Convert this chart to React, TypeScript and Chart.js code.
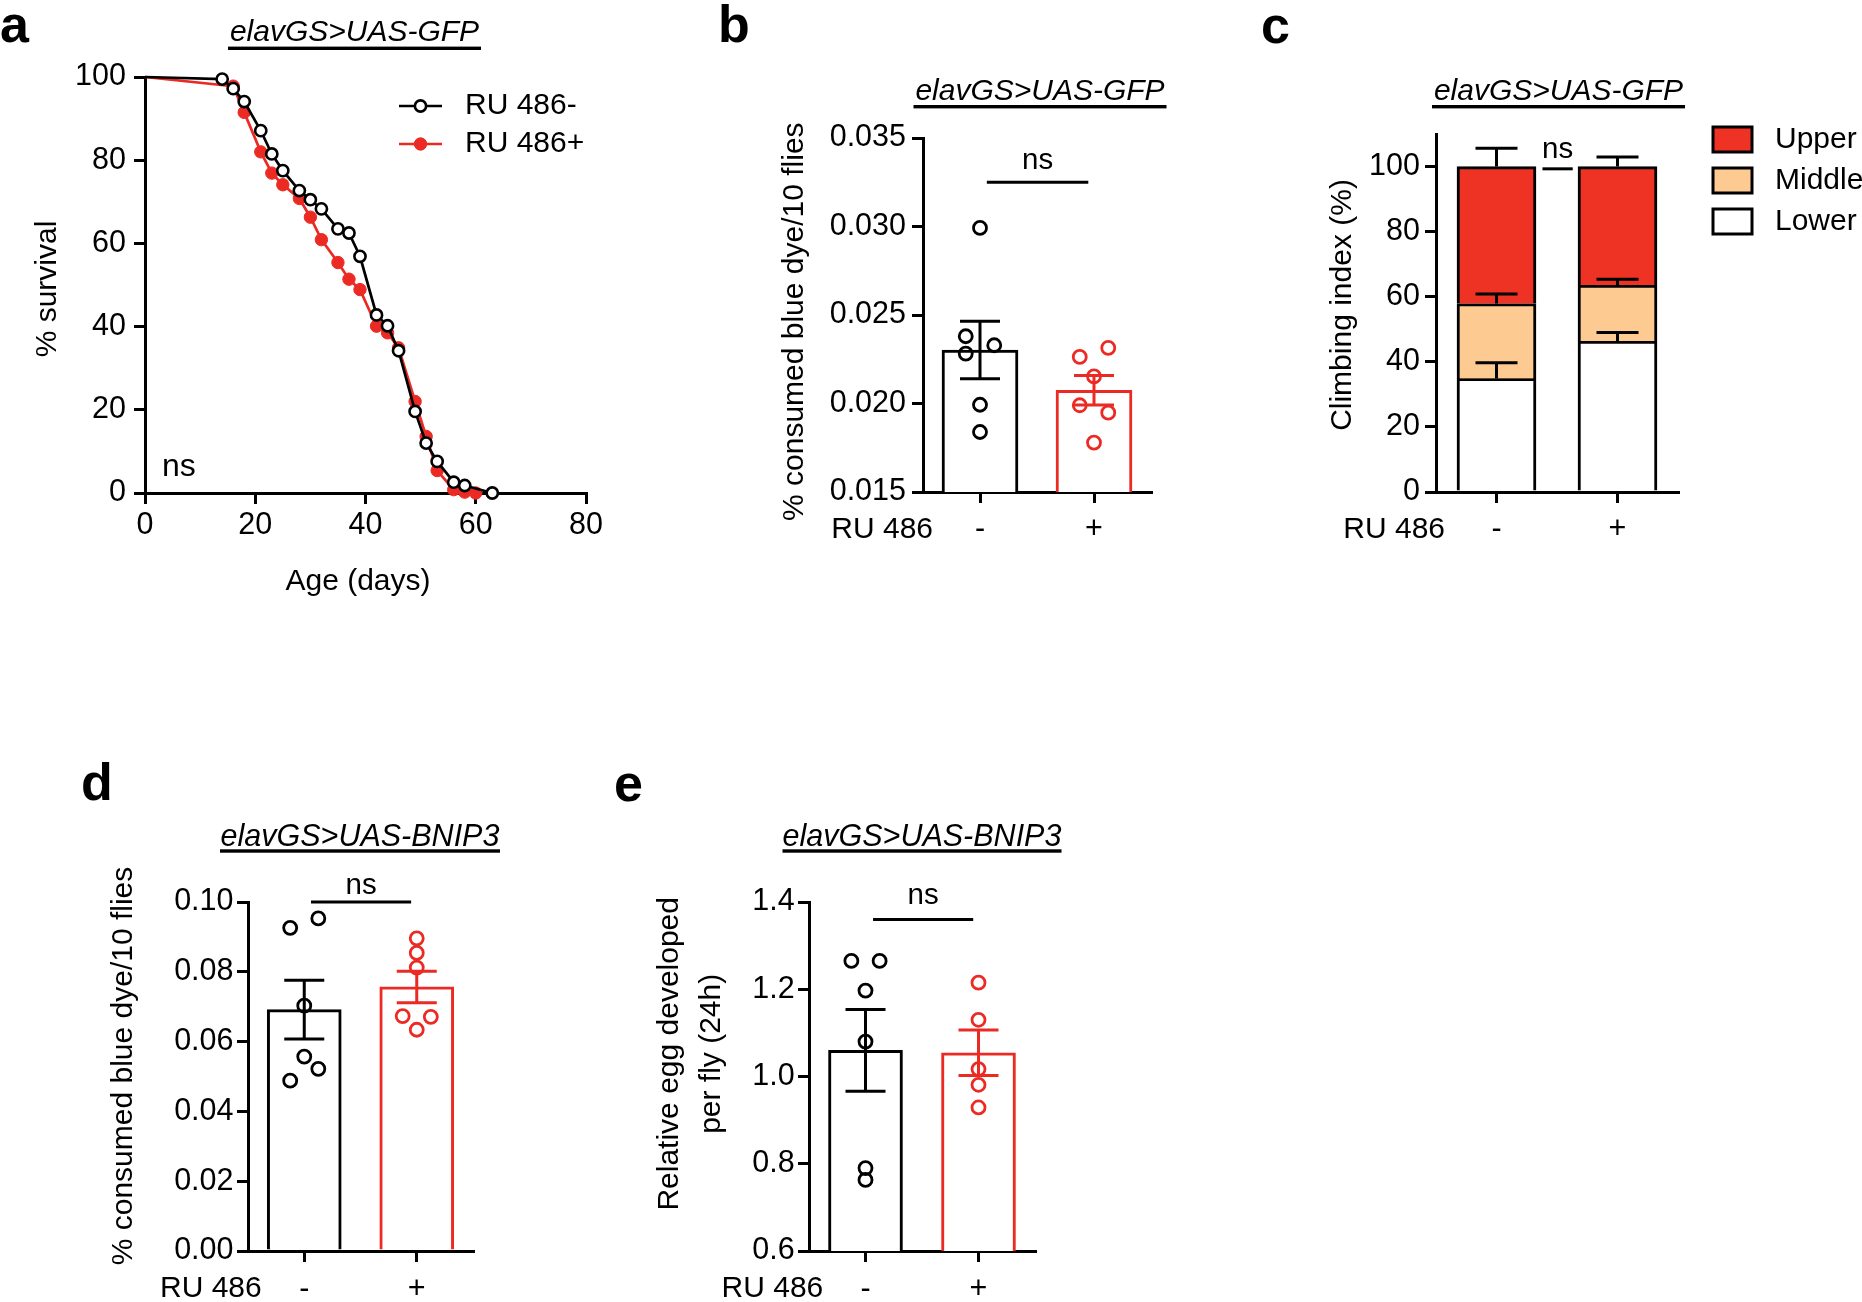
import { useEffect, useRef } from 'react';
import { Chart, registerables } from 'chart.js';

Chart.register(...registerables);

const PAGE_W = 1862;
const PAGE_H = 1302;
const FONT = '"Liberation Sans", Arial, Helvetica, sans-serif';
const BLACK = '#000000';
const RED = '#EC2A24';
const UPPER_FILL = '#EE3325';
const MIDDLE_FILL = '#FDCB92';
const LOWER_FILL = '#FFFFFF';

// ---------- shared labels ----------
const groupLabels = ['-', '+'];
const treatmentLabel = 'RU 486';
const gfpLine = 'elavGS>UAS-GFP';
const bnipLine = 'elavGS>UAS-BNIP3';

// ---------- panel a: survival ----------
const aDaysNeg = [0, 14, 16, 18, 21, 23, 25, 28, 30, 32, 35, 37, 39, 42, 44, 46, 49, 51, 53, 56, 58, 63];
const aSurvivalNeg = [100, 99.5, 97.2, 94.1, 87.1, 81.5, 77.5, 72.7, 70.5, 68.3, 63.5, 62.5, 56.9, 42.8, 40.2, 34.2, 19.6, 12.0, 7.6, 2.6, 1.8, 0];
const aDaysPos = [0, 16, 18, 21, 23, 25, 28, 30, 32, 35, 37, 39, 42, 44, 46, 49, 51, 53, 56, 58, 60];
const aSurvivalPos = [100, 97.8, 91.5, 82.0, 76.9, 74.1, 70.8, 66.3, 60.9, 55.4, 51.4, 48.9, 40.1, 38.5, 34.9, 22.0, 13.6, 5.4, 0.8, 0.2, 0];
const aSeriesNames = ['RU 486-', 'RU 486+'];
const aXTickLabels = ['0', '20', '40', '60', '80'];
const aYTickLabels = ['0', '20', '40', '60', '80', '100'];

// ---------- panel b: feeding (GFP) ----------
const bFeedingNeg = [0.02992, 0.0238, 0.02329, 0.02282, 0.01993, 0.01839];
const bFeedingPos = [0.02263, 0.02314, 0.02153, 0.0199, 0.01948, 0.01779];
const bYTickLabels = ['0.015', '0.020', '0.025', '0.030', '0.035'];

// ---------- panel c: climbing ----------
const cSegmentNames = ['Upper', 'Middle', 'Lower'];
const cLower = [34.9, 46.4];
const cMiddle = [23.0, 17.2];
const cUpper = [42.1, 36.4];
const cLowerSem = [4.8, 2.6];
const cMiddleSem = [2.9, 1.8];
const cUpperSem = [5.6, 2.9];
const cYTickLabels = ['0', '20', '40', '60', '80', '100'];

// ---------- panel d: feeding (BNIP3) ----------
const dFeedingNeg = [0.0926, 0.0953, 0.0703, 0.0557, 0.0522, 0.0488];
const dFeedingPos = [0.0896, 0.0854, 0.0812, 0.0673, 0.0671, 0.0634];
const dYTickLabels = ['0.00', '0.02', '0.04', '0.06', '0.08', '0.10'];

// ---------- panel e: eggs (BNIP3) ----------
const eEggsNeg = [1.265, 1.265, 1.197, 1.08, 0.79, 0.763];
const eEggsPos = [1.215, 1.13, 1.017, 0.981, 0.929];
const eYTickLabels = ['0.6', '0.8', '1.0', '1.2', '1.4'];

// ---------- layout only (swarm columns of dots: -1 left, 0 centre, +1 right) ----------
const bSwarmNeg = [0, -1, 1, -1, 0, 0];
const bSwarmPos = [-1, 1, 0, -1, 1, 0];
const dSwarmNeg = [-1, 1, 0, 0, 1, -1];
const dSwarmPos = [0, 0, 0, -1, 1, 0];
const eSwarmNeg = [-1, 1, 0, 0, 0, 0];
const eSwarmPos = [0, 0, 0, 0, 0];
const SWARM_STEP = 0.125;

type Frame = { left: number; top: number; right: number; bottom: number };
const X_AXIS_H = 80;
const frameA: Frame = { left: 145, top: 77, right: 586, bottom: 493 };
const frameB: Frame = { left: 923, top: 138, right: 1151, bottom: 492 };
const frameC: Frame = { left: 1436, top: 134, right: 1678, bottom: 492 };
const frameD: Frame = { left: 248, top: 902, right: 473, bottom: 1251 };
const frameE: Frame = { left: 809, top: 902, right: 1035, bottom: 1251 };

const TICK_FONT = 30.5;
const GRID = { display: true, drawOnChartArea: false, drawTicks: true, tickLength: 11, lineWidth: 3, color: BLACK, offset: false };
const BORDER = { display: true, width: 3, color: BLACK };

function mean(a: number[]) {
  return a.reduce((s, v) => s + v, 0) / a.length;
}
function sem(a: number[]) {
  const m = mean(a);
  const sd = Math.sqrt(a.reduce((s, v) => s + (v - m) * (v - m), 0) / (a.length - 1));
  return sd / Math.sqrt(a.length);
}

function layoutFor(f: Frame) {
  return { padding: { left: 0, top: f.top, right: PAGE_W - f.right, bottom: PAGE_H - f.bottom - X_AXIS_H } };
}

function yAxis(f: Frame, tickLabels: string[], min: number, max: number, size: number, pad: number) {
  const values = tickLabels.map(Number);
  return {
    type: 'linear',
    position: 'left',
    min,
    max,
    afterBuildTicks: (s: any) => {
      s.ticks = values.map((v) => ({ value: v }));
    },
    afterFit: (s: any) => {
      s.width = f.left;
    },
    ticks: {
      color: BLACK,
      font: { family: FONT, size },
      padding: pad,
      autoSkip: false,
      callback: (v: any) => {
        const i = values.findIndex((t) => Math.abs(t - Number(v)) < 1e-9);
        return i >= 0 ? tickLabels[i] : '';
      },
    },
    grid: GRID,
    border: BORDER,
  };
}

function xAxisLinear(tickLabels: string[], size: number, pad: number) {
  const values = tickLabels.map(Number);
  return {
    type: 'linear',
    position: 'bottom',
    min: values[0],
    max: values[values.length - 1],
    offset: false,
    afterBuildTicks: (s: any) => {
      s.ticks = values.map((v) => ({ value: v }));
    },
    afterFit: (s: any) => {
      s.height = X_AXIS_H;
    },
    ticks: {
      color: BLACK,
      font: { family: FONT, size },
      padding: pad,
      autoSkip: false,
      maxRotation: 0,
      callback: (v: any) => {
        const i = values.findIndex((t) => Math.abs(t - Number(v)) < 1e-9);
        return i >= 0 ? tickLabels[i] : '';
      },
    },
    grid: GRID,
    border: BORDER,
  };
}

function xAxisGroups(size: number, pad: number) {
  return {
    type: 'linear',
    position: 'bottom',
    min: 0.5,
    max: groupLabels.length + 0.5,
    offset: false,
    afterBuildTicks: (s: any) => {
      s.ticks = groupLabels.map((_, i) => ({ value: i + 1 }));
    },
    afterFit: (s: any) => {
      s.height = X_AXIS_H;
    },
    ticks: {
      color: BLACK,
      font: { family: FONT, size },
      padding: pad,
      autoSkip: false,
      maxRotation: 0,
      callback: (v: any) => groupLabels[Math.round(Number(v)) - 1] ?? '',
    },
    grid: GRID,
    border: BORDER,
  };
}

type TextOpts = {
  size?: number;
  weight?: string;
  style?: string;
  align?: CanvasTextAlign;
  baseline?: CanvasTextBaseline;
  rotate?: boolean;
  color?: string;
};

function label(ctx: CanvasRenderingContext2D, s: string, x: number, y: number, o: TextOpts = {}) {
  ctx.save();
  ctx.font = `${o.style ?? 'normal'} ${o.weight ?? 'normal'} ${o.size ?? 30}px ${FONT}`;
  ctx.fillStyle = o.color ?? BLACK;
  ctx.textAlign = o.align ?? 'center';
  ctx.textBaseline = o.baseline ?? 'middle';
  ctx.translate(x, y);
  if (o.rotate) ctx.rotate(-Math.PI / 2);
  ctx.fillText(s, 0, 0);
  ctx.restore();
}

function panelLetter(ctx: CanvasRenderingContext2D, s: string, x: number, baseline: number) {
  label(ctx, s, x, baseline, { size: 52, weight: 'bold', align: 'left', baseline: 'alphabetic' });
}

function lineTitle(ctx: CanvasRenderingContext2D, s: string, cx: number, baseline: number, underlineY: number, half: number, size: number) {
  label(ctx, s, cx, baseline, { style: 'italic', baseline: 'alphabetic', size });
  ctx.save();
  ctx.fillStyle = BLACK;
  ctx.fillRect(cx - half, underlineY - 1.7, half * 2, 3.4);
  ctx.restore();
}

function nsBracket(chart: any, ctx: CanvasRenderingContext2D, x1: number, x2: number, yv: number, gap: number) {
  const xs = chart.scales.x;
  const ys = chart.scales.y;
  const p1 = xs.getPixelForValue(x1);
  const p2 = xs.getPixelForValue(x2);
  const py = ys.getPixelForValue(yv);
  ctx.save();
  ctx.strokeStyle = BLACK;
  ctx.lineWidth = 3;
  ctx.beginPath();
  ctx.moveTo(p1, py);
  ctx.lineTo(p2, py);
  ctx.stroke();
  ctx.restore();
  label(ctx, 'ns', (p1 + p2) / 2, py - gap, { size: 29.5, baseline: 'alphabetic' });
}

function errorBar(chart: any, ctx: CanvasRenderingContext2D, xv: number, m: number, e: number, color: string, cap: number, both: boolean) {
  const xs = chart.scales.x;
  const ys = chart.scales.y;
  const px = xs.getPixelForValue(xv);
  const top = ys.getPixelForValue(m + e);
  const bot = ys.getPixelForValue(both ? m - e : m);
  ctx.save();
  ctx.strokeStyle = color;
  ctx.lineWidth = 3;
  ctx.beginPath();
  ctx.moveTo(px, bot);
  ctx.lineTo(px, top);
  ctx.moveTo(px - cap / 2, top);
  ctx.lineTo(px + cap / 2, top);
  if (both) {
    ctx.moveTo(px - cap / 2, bot);
    ctx.lineTo(px + cap / 2, bot);
  }
  ctx.stroke();
  ctx.restore();
}

function annotate(id: string, draw: (chart: any, ctx: CanvasRenderingContext2D) => void) {
  return {
    id,
    afterDraw(chart: any) {
      const ctx = chart.ctx as CanvasRenderingContext2D;
      ctx.save();
      draw(chart, ctx);
      ctx.restore();
    },
  };
}

const baseOptions = {
  responsive: false,
  maintainAspectRatio: false,
  animation: false as const,
  devicePixelRatio: 1,
  events: [] as any[],
  plugins: { legend: { display: false }, tooltip: { enabled: false }, title: { display: false } },
};

// ---------- panel a ----------
function buildA(canvas: HTMLCanvasElement) {
  const negStyle = { color: BLACK, fill: '#FFFFFF', radius: 5.6, bw: 2.6 };
  const posStyle = { color: RED, fill: RED, radius: 6.2, bw: 1 };
  return new Chart(canvas, {
    type: 'line',
    data: {
      datasets: [
        {
          label: aSeriesNames[0],
          data: aDaysNeg.map((d, i) => ({ x: d, y: aSurvivalNeg[i] })),
          borderColor: negStyle.color,
          borderWidth: 2.7,
          backgroundColor: negStyle.fill,
          pointBackgroundColor: negStyle.fill,
          pointBorderColor: negStyle.color,
          pointBorderWidth: negStyle.bw,
          pointRadius: (c: any) => (c.dataIndex === 0 ? 0 : negStyle.radius),
          tension: 0,
          fill: false,
          clip: false,
        },
        {
          label: aSeriesNames[1],
          data: aDaysPos.map((d, i) => ({ x: d, y: aSurvivalPos[i] })),
          borderColor: posStyle.color,
          borderWidth: 2.7,
          backgroundColor: posStyle.fill,
          pointBackgroundColor: posStyle.fill,
          pointBorderColor: posStyle.color,
          pointBorderWidth: posStyle.bw,
          pointRadius: (c: any) => (c.dataIndex === 0 ? 0 : posStyle.radius),
          tension: 0,
          fill: false,
          clip: false,
        },
      ] as any,
    },
    options: {
      ...baseOptions,
      layout: layoutFor(frameA),
      scales: {
        x: xAxisLinear(aXTickLabels, TICK_FONT, 3.7),
        y: yAxis(frameA, aYTickLabels, 0, 100, TICK_FONT, 8),
      } as any,
    } as any,
    plugins: [
      annotate('annot-a', (chart, ctx) => {
        panelLetter(ctx, 'a', 0, 42);
        lineTitle(ctx, gfpLine, 354.5, 41, 48.3, 126.5, 30);
        label(ctx, '% survival', 48, 289, { rotate: true });
        label(ctx, 'Age (days)', 358, 582);
        label(ctx, 'ns', 162, 476, { size: 32, align: 'left', baseline: 'alphabetic' });
        const styles = [negStyle, posStyle];
        const rows = [106, 144];
        styles.forEach((st, i) => {
          const y = rows[i];
          ctx.save();
          ctx.strokeStyle = st.color;
          ctx.lineWidth = 2.7;
          ctx.beginPath();
          ctx.moveTo(399, y);
          ctx.lineTo(442, y);
          ctx.stroke();
          ctx.beginPath();
          ctx.arc(420.5, y, st.radius, 0, Math.PI * 2);
          ctx.fillStyle = st.fill;
          ctx.fill();
          ctx.lineWidth = st.bw;
          ctx.stroke();
          ctx.restore();
          label(ctx, aSeriesNames[i], 465, y, { align: 'left' });
        });
      }),
    ],
  });
}

// ---------- dot + bar panels (b, d, e) ----------
type DotBarCfg = {
  id: string;
  frame: Frame;
  groups: number[][];
  swarm: number[][];
  tickLabels: string[];
  min: number;
  max: number;
  barThickness: number;
  cap: number;
  yPad: number;
  xPad: number;
  extra: (chart: any, ctx: CanvasRenderingContext2D) => void;
};

function buildDotBar(canvas: HTMLCanvasElement, cfg: DotBarCfg) {
  const colors = [BLACK, RED];
  const datasets: any[] = [
    {
      type: 'bar',
      data: cfg.groups.map((g, i) => ({ x: i + 1, y: mean(g) })),
      backgroundColor: '#FFFFFF',
      borderColor: colors,
      borderWidth: { top: 3, left: 3, right: 3, bottom: 0 },
      borderSkipped: false,
      barThickness: cfg.barThickness,
      order: 2,
    },
  ];
  cfg.groups.forEach((g, gi) => {
    datasets.push({
      type: 'scatter',
      data: g.map((v, i) => ({ x: gi + 1 + cfg.swarm[gi][i] * SWARM_STEP, y: v })),
      pointRadius: 6.5,
      pointBorderWidth: 2.8,
      pointBorderColor: colors[gi],
      pointBackgroundColor: 'rgba(255,255,255,0)',
      showLine: false,
      clip: false,
      order: 1,
    });
  });
  return new Chart(canvas, {
    type: 'bar',
    data: { datasets },
    options: {
      ...baseOptions,
      layout: layoutFor(cfg.frame),
      scales: {
        x: xAxisGroups(TICK_FONT, cfg.xPad),
        y: yAxis(cfg.frame, cfg.tickLabels, cfg.min, cfg.max, TICK_FONT, cfg.yPad),
      } as any,
    } as any,
    plugins: [
      annotate(cfg.id, (chart, ctx) => {
        cfg.groups.forEach((g, gi) => errorBar(chart, ctx, gi + 1, mean(g), sem(g), colors[gi], cfg.cap, true));
        cfg.extra(chart, ctx);
      }),
    ],
  });
}

// ---------- panel c ----------
function buildC(canvas: HTMLCanvasElement) {
  const top1 = cLower;
  const top2 = cLower.map((v, i) => v + cMiddle[i]);
  const top3 = top2.map((v, i) => v + cUpper[i]);
  const fills = [UPPER_FILL, MIDDLE_FILL, LOWER_FILL];
  const common = {
    type: 'bar',
    borderColor: BLACK,
    borderSkipped: false,
    barThickness: 79,
    grouped: false,
    borderWidth: { top: 3, left: 3, right: 3, bottom: 0 },
  };
  const datasets: any[] = [
    { ...common, label: cSegmentNames[0], data: top2.map((v, i) => ({ x: i + 1, y: [v, top3[i]] })), backgroundColor: fills[0] },
    { ...common, label: cSegmentNames[1], data: top1.map((v, i) => ({ x: i + 1, y: [v, top2[i]] })), backgroundColor: fills[1] },
    { ...common, label: cSegmentNames[2], data: top1.map((v, i) => ({ x: i + 1, y: [0, v] })), backgroundColor: fills[2] },
  ];
  return new Chart(canvas, {
    type: 'bar',
    data: { datasets },
    options: {
      ...baseOptions,
      layout: layoutFor(frameC),
      scales: {
        x: xAxisGroups(TICK_FONT, 8.3),
        y: yAxis(frameC, cYTickLabels, 0, 110, TICK_FONT, 5),
      } as any,
    } as any,
    plugins: [
      annotate('annot-c', (chart, ctx) => {
        groupLabels.forEach((_, i) => {
          errorBar(chart, ctx, i + 1, top1[i], cLowerSem[i], BLACK, 42, false);
          errorBar(chart, ctx, i + 1, top2[i], cMiddleSem[i], BLACK, 42, false);
          errorBar(chart, ctx, i + 1, top3[i], cUpperSem[i], BLACK, 42, false);
        });
        panelLetter(ctx, 'c', 1261, 43);
        lineTitle(ctx, gfpLine, 1558.5, 100, 106.7, 126.5, 30);
        label(ctx, 'Climbing index (%)', 1343, 305, { rotate: true });
        label(ctx, treatmentLabel, 1445, 530, { align: 'right' });
        nsBracket(chart, ctx, 1.38, 1.63, 99.3, 11);
        const boxTops = [127, 168, 209];
        cSegmentNames.forEach((name, i) => {
          ctx.save();
          ctx.fillStyle = fills[i];
          ctx.fillRect(1713, boxTops[i], 39, 25);
          ctx.strokeStyle = BLACK;
          ctx.lineWidth = 3;
          ctx.strokeRect(1713, boxTops[i], 39, 25);
          ctx.restore();
          label(ctx, name, 1775, boxTops[i] + 13, { align: 'left' });
        });
      }),
    ],
  });
}

export default function App() {
  const canvases = useRef<(HTMLCanvasElement | null)[]>([]);

  useEffect(() => {
    const c = canvases.current;
    const charts: Chart[] = [];
    charts.push(buildA(c[0]!));
    charts.push(
      buildDotBar(c[1]!, {
        id: 'annot-b',
        frame: frameB,
        groups: [bFeedingNeg, bFeedingPos],
        swarm: [bSwarmNeg, bSwarmPos],
        tickLabels: bYTickLabels,
        min: 0.015,
        max: 0.035,
        barThickness: 76,
        cap: 40,
        yPad: 6,
        xPad: 8.3,
        extra: (chart, ctx) => {
          panelLetter(ctx, 'b', 718, 42);
          lineTitle(ctx, gfpLine, 1040, 100, 106.7, 126.5, 30);
          label(ctx, '% consumed blue dye/10 flies', 795, 321.7, { rotate: true });
          label(ctx, treatmentLabel, 933, 530, { align: 'right' });
          nsBracket(chart, ctx, 1.06, 1.95, 0.0325, 12.8);
        },
      })
    );
    charts.push(buildC(c[2]!));
    charts.push(
      buildDotBar(c[3]!, {
        id: 'annot-d',
        frame: frameD,
        groups: [dFeedingNeg, dFeedingPos],
        swarm: [dSwarmNeg, dSwarmPos],
        tickLabels: dYTickLabels,
        min: 0,
        max: 0.1,
        barThickness: 74,
        cap: 40,
        yPad: 3.5,
        xPad: 8.8,
        extra: (chart, ctx) => {
          panelLetter(ctx, 'd', 81, 800);
          lineTitle(ctx, bnipLine, 360, 846.4, 851, 140, 30.5);
          label(ctx, '% consumed blue dye/10 flies', 123.3, 1066, { rotate: true });
          label(ctx, treatmentLabel, 261.7, 1289, { align: 'right' });
          nsBracket(chart, ctx, 1.06, 1.95, 0.1, 7.7);
        },
      })
    );
    charts.push(
      buildDotBar(c[4]!, {
        id: 'annot-e',
        frame: frameE,
        groups: [eEggsNeg, eEggsPos],
        swarm: [eSwarmNeg, eSwarmPos],
        tickLabels: eYTickLabels,
        min: 0.6,
        max: 1.4,
        barThickness: 74,
        cap: 40,
        yPad: 3.3,
        xPad: 8.8,
        extra: (chart, ctx) => {
          panelLetter(ctx, 'e', 614, 801);
          lineTitle(ctx, bnipLine, 922, 846.4, 851, 139.5, 30.5);
          label(ctx, 'Relative egg developed', 670, 1053.8, { rotate: true });
          label(ctx, 'per fly (24h)', 711.7, 1053.8, { rotate: true });
          label(ctx, treatmentLabel, 823.3, 1289, { align: 'right' });
          nsBracket(chart, ctx, 1.067, 1.953, 1.36, 15.7);
        },
      })
    );
    return () => charts.forEach((ch) => ch.destroy());
  }, []);

  return (
    <div
      style={{
        position: 'absolute',
        left: 0,
        top: 0,
        width: PAGE_W,
        height: PAGE_H,
        background: '#FFFFFF',
        overflow: 'hidden',
      }}
    >
      {[0, 1, 2, 3, 4].map((i) => (
        <canvas
          key={i}
          ref={(el) => {
            canvases.current[i] = el;
          }}
          width={PAGE_W}
          height={PAGE_H}
          style={{ position: 'absolute', left: 0, top: 0, width: PAGE_W, height: PAGE_H }}
        />
      ))}
    </div>
  );
}
